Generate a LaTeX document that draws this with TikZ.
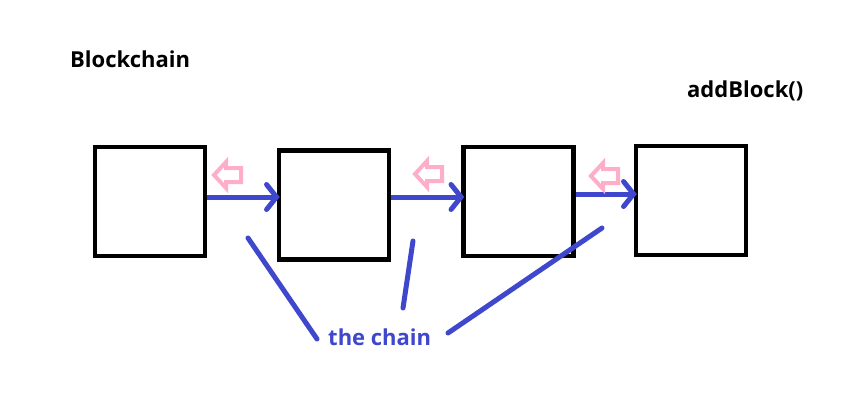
\documentclass[tikz,border=0pt]{standalone}
\usepackage{fontspec}
\setmainfont{Open Sans}
\usetikzlibrary{arrows.meta}
\definecolor{indigo}{RGB}{63,72,204}
\definecolor{rose}{RGB}{255,174,201}
\tikzset{
    block/.style = {rectangle, draw=black, line width=4.5pt, minimum width=110pt, minimum height=109pt},
    link/.style = {-{Straight Barb[length=10pt,width=25pt,line cap=round]}, line width=5pt, indigo, shorten >=-3pt},
    backptr/.style = {draw=rose, line width=4pt, line join=miter},
    chainline/.style = {line width=5pt, indigo, line cap=round},
    title/.style = {font=\bfseries\fontsize{22}{26}\selectfont, anchor=base west, inner sep=0pt},
}
\newcommand{\backptr}[1]{\draw[backptr] (#1) -- ++(12,-13) -- ++(0,6) -- ++(15,0) -- ++(0,14) -- ++(-15,0) -- ++(0,6) -- cycle;}

\begin{document}
\begin{tikzpicture}[x=1pt,y=-1pt]
\useasboundingbox (0,0) rectangle (855,402);
\node[title] at (70,67) (name) {Blockchain};
\node[title] at (687,97) (add) {addBlock()};
\node[block] at (150,201.5) (b1) {};
\node[block] at (334,205) (b2) {};
\node[block] at (518.5,201.5) (b3) {};
\node[block] at (691,200.5) (b4) {};
\draw[link] (b1.east |- 0,197) -- (b2.west |- 0,197);
\draw[link] (b2.east |- 0,197) -- (b3.west |- 0,197);
\draw[link] (b3.east |- 0,194) -- (b4.west |- 0,194);
\coordinate (p1) at (214,175);
\coordinate (p2) at (415,174);
\coordinate (p3) at (591,176);
\backptr{p1}
\backptr{p2}
\backptr{p3}
\node[title, text=indigo] at (328,345) (chain) {the chain};
\coordinate (c1) at (248,238);
\coordinate (t1) at (317,339);
\coordinate (c2) at (413,241);
\coordinate (t2) at (403,308);
\coordinate (c3) at (602,228);
\coordinate (t3) at (448,333);
\draw[chainline] (c1) -- (t1);
\draw[chainline] (c2) -- (t2);
\draw[chainline] (c3) -- (t3);
\end{tikzpicture}
\end{document}
